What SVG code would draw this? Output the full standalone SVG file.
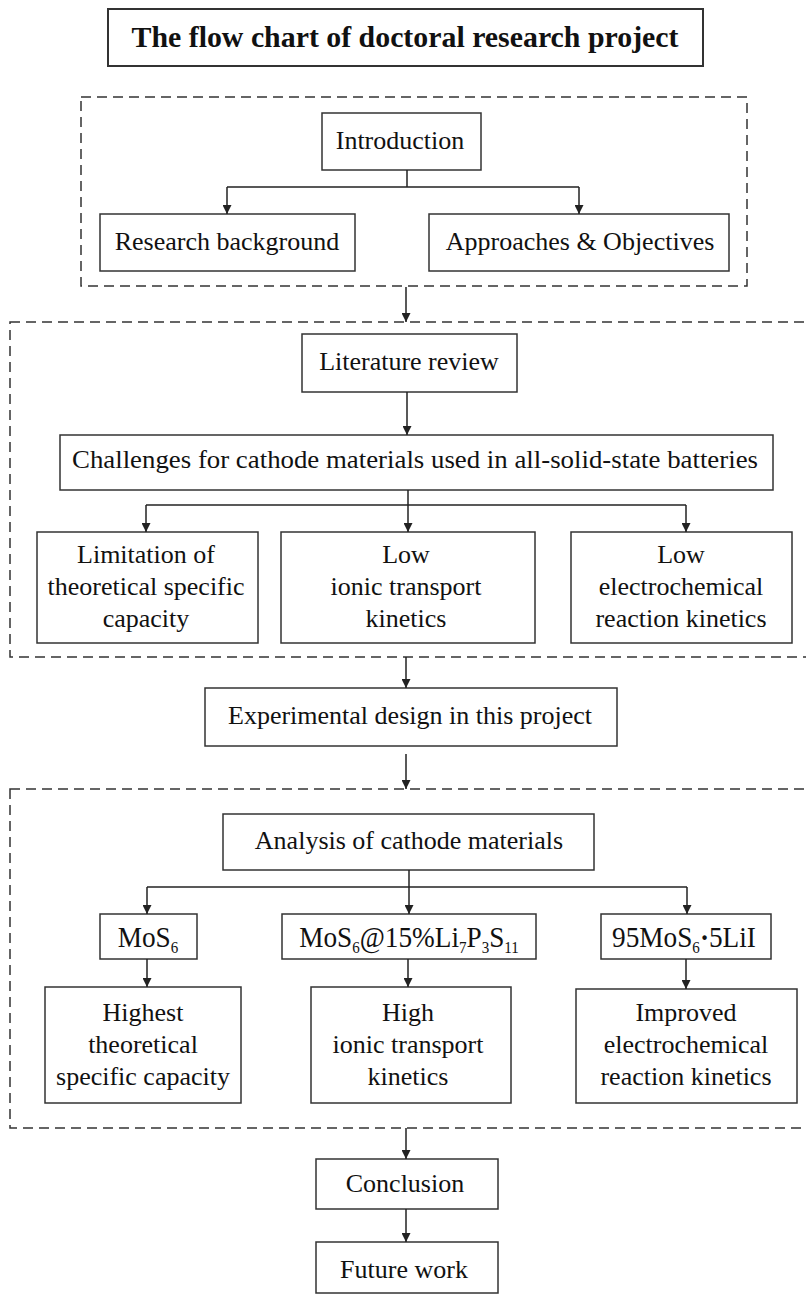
<svg xmlns="http://www.w3.org/2000/svg" width="806" height="1295" viewBox="0 0 806 1295">
<defs>
<marker id="ah" viewBox="0 0 10 10" refX="10" refY="5" markerWidth="9" markerHeight="9" markerUnits="userSpaceOnUse" orient="auto">
<path d="M0,0 L10,5 L0,10 Z" fill="#222"/>
</marker>
<style>
.bx{fill:#fff;stroke:#333;stroke-width:1.5}
.dash{fill:none;stroke:#333;stroke-width:1.5;stroke-dasharray:10 6}
.t{font-family:"Liberation Serif","Times New Roman",serif;font-size:26px;fill:#111;text-anchor:middle}
.m{font-family:"Liberation Serif","Times New Roman",serif;font-size:29px;fill:#111;text-anchor:middle}
.tt{font-family:"Liberation Serif","Times New Roman",serif;font-size:29px;font-weight:bold;fill:#111;text-anchor:middle}
.sub{font-size:16px}
.ln{fill:none;stroke:#222;stroke-width:1.5}
.ar{fill:none;stroke:#222;stroke-width:1.5;marker-end:url(#ah)}
</style>
</defs>
<rect width="806" height="1295" fill="#fff"/>

<g id="title">
<rect class="bx" x="108" y="9" width="595" height="57" style="stroke-width:2"/>
<text class="tt" x="405" y="47" textLength="547" lengthAdjust="spacingAndGlyphs">The flow chart of doctoral research project</text>
</g>

<g id="group-introduction">
<rect class="dash" x="81" y="97" width="666" height="189"/>
</g>
<g id="introduction">
<rect class="bx" x="322" y="113" width="159" height="57"/>
<text class="t" x="400" y="149">Introduction</text>
</g>
<g id="research-background">
<rect class="bx" x="100" y="214" width="255" height="57"/>
<text class="t" x="227" y="250">Research background</text>
</g>
<g id="approaches">
<rect class="bx" x="429" y="214" width="300" height="57"/>
<text class="t" x="580" y="250">Approaches &amp; Objectives</text>
</g>

<g id="group-literature">
<rect class="dash" x="10" y="322" width="810" height="335"/>
</g>
<g id="literature-review">
<rect class="bx" x="302" y="334" width="215" height="58"/>
<text class="t" x="409" y="370">Literature review</text>
</g>
<g id="challenges">
<rect class="bx" x="60" y="435" width="713" height="55"/>
<text class="t" x="415" y="468" textLength="686" lengthAdjust="spacingAndGlyphs">Challenges for cathode materials used in all-solid-state batteries</text>
</g>
<g id="limitation">
<rect class="bx" x="37" y="532" width="221" height="111"/>
<text class="t" x="146" y="563">Limitation of</text>
<text class="t" x="146" y="595">theoretical specific</text>
<text class="t" x="146" y="627">capacity</text>
</g>
<g id="low-ionic">
<rect class="bx" x="281" y="532" width="254" height="111"/>
<text class="t" x="406" y="563">Low</text>
<text class="t" x="406" y="595">ionic transport</text>
<text class="t" x="406" y="627">kinetics</text>
</g>
<g id="low-electrochemical">
<rect class="bx" x="571" y="532" width="221" height="111"/>
<text class="t" x="681" y="563">Low</text>
<text class="t" x="681" y="595">electrochemical</text>
<text class="t" x="681" y="627">reaction kinetics</text>
</g>

<g id="experimental-design">
<rect class="bx" x="205" y="688" width="412" height="58"/>
<text class="t" x="410" y="724">Experimental design in this project</text>
</g>

<g id="group-analysis">
<rect class="dash" x="10" y="789" width="810" height="339"/>
</g>
<g id="analysis">
<rect class="bx" x="223" y="814" width="371" height="56"/>
<text class="t" x="409" y="849">Analysis of cathode materials</text>
</g>
<g id="mos6">
<rect class="bx" x="100" y="914" width="97" height="45"/>
<text class="m" transform="translate(148,947) scale(0.94,1)">MoS<tspan class="sub" dy="6">6</tspan></text>
</g>
<g id="mos6-lps">
<rect class="bx" x="282" y="914" width="254" height="45"/>
<text class="m" transform="translate(409,947) scale(0.94,1)">MoS<tspan class="sub" dy="6">6</tspan><tspan dy="-6">@15%Li</tspan><tspan class="sub" dy="6">7</tspan><tspan dy="-6">P</tspan><tspan class="sub" dy="6">3</tspan><tspan dy="-6">S</tspan><tspan class="sub" dy="6">11</tspan></text>
</g>
<g id="mos6-lii">
<rect class="bx" x="601" y="914" width="170" height="45"/>
<text class="m" transform="translate(684,947) scale(0.94,1)">95MoS<tspan class="sub" dy="6">6</tspan><tspan dy="-6" font-weight="bold">·</tspan><tspan>5LiI</tspan></text>
</g>
<g id="highest">
<rect class="bx" x="45" y="987" width="196" height="116"/>
<text class="t" x="143" y="1021">Highest</text>
<text class="t" x="143" y="1053">theoretical</text>
<text class="t" x="143" y="1085">specific capacity</text>
</g>
<g id="high">
<rect class="bx" x="311" y="987" width="200" height="116"/>
<text class="t" x="408" y="1021">High</text>
<text class="t" x="408" y="1053">ionic transport</text>
<text class="t" x="408" y="1085">kinetics</text>
</g>
<g id="improved">
<rect class="bx" x="576" y="989" width="221" height="114"/>
<text class="t" x="686" y="1021">Improved</text>
<text class="t" x="686" y="1053">electrochemical</text>
<text class="t" x="686" y="1085">reaction kinetics</text>
</g>

<g id="conclusion">
<rect class="bx" x="316" y="1159" width="182" height="50"/>
<text class="t" x="405" y="1192">Conclusion</text>
</g>
<g id="future-work">
<rect class="bx" x="316" y="1242" width="182" height="51"/>
<text class="t" x="404" y="1278">Future work</text>
</g>

<g id="connectors">
<path class="ln" d="M407,170 V187 M227,187 H579"/>
<path class="ar" d="M227,187 V214"/>
<path class="ar" d="M579,187 V214"/>
<path class="ar" d="M406,287 V322"/>
<path class="ar" d="M407,392 V435"/>
<path class="ln" d="M146,505 H686"/>
<path class="ar" d="M408,490 V532"/>
<path class="ar" d="M146,505 V532"/>
<path class="ar" d="M686,505 V532"/>
<path class="ar" d="M406,657 V688"/>
<path class="ar" d="M406,754 V789"/>
<path class="ln" d="M147,887 H687"/>
<path class="ar" d="M409,870 V914"/>
<path class="ar" d="M147,887 V914"/>
<path class="ar" d="M687,887 V914"/>
<path class="ar" d="M147,959 V987"/>
<path class="ar" d="M408,959 V987"/>
<path class="ar" d="M686,959 V989"/>
<path class="ar" d="M406,1128 V1159"/>
<path class="ar" d="M406,1209 V1242"/>
</g>
</svg>
